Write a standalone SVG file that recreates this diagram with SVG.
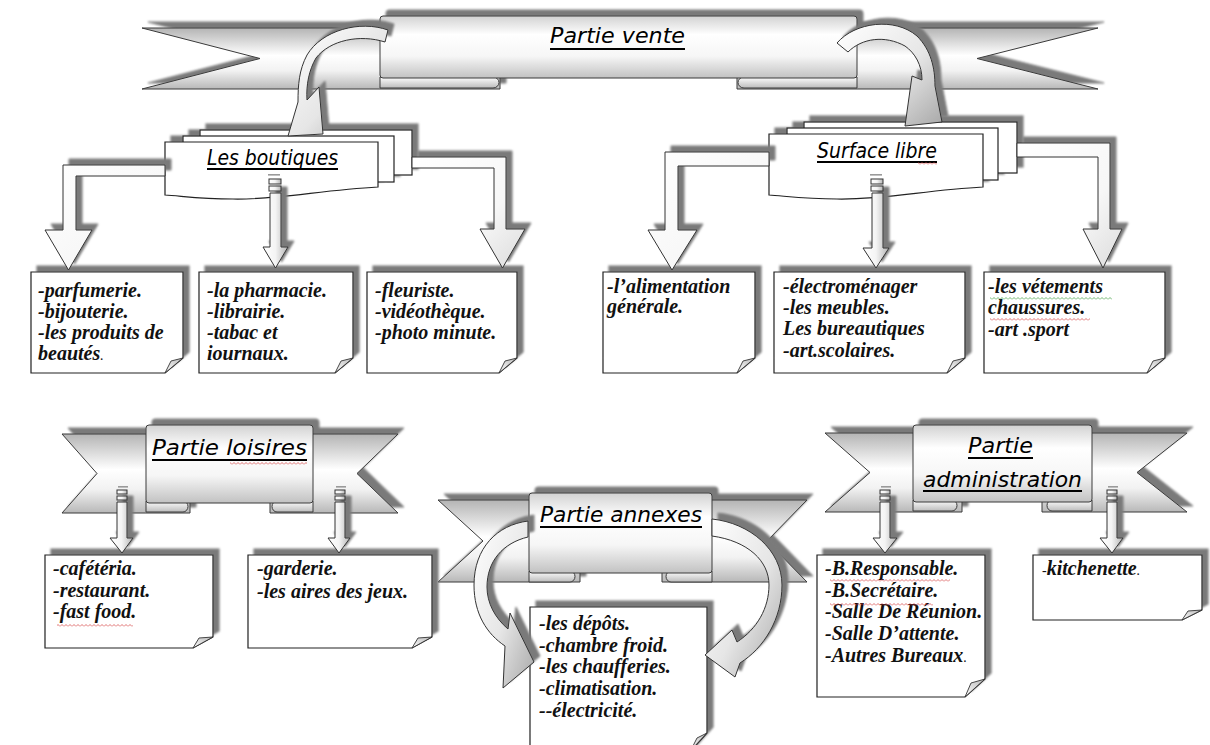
<svg xmlns="http://www.w3.org/2000/svg" width="1210" height="745" viewBox="0 0 1210 745">
<defs>
<style>
.tail{fill:url(#gRib);stroke:#3a3a3a;stroke-width:1}
.box{fill:url(#gBox);stroke:#3a3a3a;stroke-width:1}
.roll{fill:url(#gRoll);stroke:#3a3a3a;stroke-width:1}
.page{fill:#fff;stroke:#222;stroke-width:1.2}
.note{fill:#fff;stroke:#222;stroke-width:1.2}
.fold{fill:url(#gFold);stroke:#333;stroke-width:0.9}
.arr{fill:url(#gShaft);stroke:#333;stroke-width:1}
.elb{fill:url(#gElb);stroke:#333;stroke-width:1}
.curv{fill:url(#gCurve);stroke:#333;stroke-width:1}
.dash{fill:#9a9a9a}
.h{font-family:"DejaVu Sans","Noto Sans",sans-serif;font-style:italic;font-size:22px;fill:#000}
.t{font-family:"Liberation Serif","Times New Roman",serif;font-weight:bold;font-style:italic;font-size:20px;fill:#111}
.t .n{font-weight:normal;font-size:14px}
.ul{stroke:#000;stroke-width:1.8}
</style>
<linearGradient id="gRib" x1="0" y1="0" x2="0" y2="1">
<stop offset="0" stop-color="#b4b4b4"/><stop offset="0.45" stop-color="#ffffff"/><stop offset="0.7" stop-color="#f2f2f2"/><stop offset="1" stop-color="#b8b8b8"/>
</linearGradient>
<linearGradient id="gBox" x1="0" y1="0" x2="0" y2="1">
<stop offset="0" stop-color="#d2d2d2"/><stop offset="0.3" stop-color="#ffffff"/><stop offset="0.65" stop-color="#f6f6f6"/><stop offset="1" stop-color="#c2c2c2"/>
</linearGradient>
<linearGradient id="gRoll" x1="0" y1="0" x2="0" y2="1">
<stop offset="0" stop-color="#ffffff"/><stop offset="1" stop-color="#bcbcbc"/>
</linearGradient>
<linearGradient id="gShaft" x1="0" y1="0" x2="1" y2="0">
<stop offset="0" stop-color="#ffffff"/><stop offset="0.5" stop-color="#f4f4f4"/><stop offset="1" stop-color="#b4b4b4"/>
</linearGradient>
<linearGradient id="gElb" x1="0" y1="0" x2="1" y2="1">
<stop offset="0" stop-color="#ffffff"/><stop offset="0.6" stop-color="#f7f7f7"/><stop offset="1" stop-color="#dcdcdc"/>
</linearGradient>
<linearGradient id="gCurve" x1="0" y1="0" x2="1" y2="1">
<stop offset="0" stop-color="#ffffff"/><stop offset="0.55" stop-color="#e6e6e6"/><stop offset="1" stop-color="#a8a8a8"/>
</linearGradient>
<linearGradient id="gFold" x1="0" y1="1" x2="1" y2="0">
<stop offset="0" stop-color="#ffffff"/><stop offset="1" stop-color="#b8b8b8"/>
</linearGradient>
<filter id="ds" x="-15%" y="-30%" width="140%" height="160%">
<feDropShadow dx="6" dy="-6" stdDeviation="0.9" flood-color="#7a7a7a" flood-opacity="1"/>
</filter>
<pattern id="sqR" width="4" height="3" patternUnits="userSpaceOnUse">
<path d="M0,2.5 L2,0.5 L4,2.5" fill="none" stroke="#d23a3a" stroke-width="0.7"/>
</pattern>
<pattern id="sqG" width="4" height="3" patternUnits="userSpaceOnUse">
<path d="M0,2.5 L2,0.5 L4,2.5" fill="none" stroke="#3a9a3a" stroke-width="0.7"/>
</pattern>
</defs>

<rect width="1210" height="745" fill="#fff"/>

<!-- Main banner -->
<g id="partie-vente">
<g filter="url(#ds)">
<path class="tail" d="M142,28 H500 V89 H142 L260,58.5 Z"/>
<path class="tail" d="M1098,28 H737 V89 H1098 L977,58.5 Z"/>
<path class="roll" d="M380,77 H493 A6,5.5 0 0 1 493,88 H380 Z"/>
<path class="roll" d="M857,77 H744 A6,5.5 0 0 0 744,88 H857 Z"/>
<rect class="box" x="380" y="16" width="477" height="62" rx="3"/>
</g>
<text class="h" x="550" y="43" textLength="135" lengthAdjust="spacingAndGlyphs">Partie vente</text>
<line class="ul" x1="550" y1="49" x2="685" y2="49"/>
</g>

<!-- Stacked pages: shops -->
<g id="les-boutiques">
<g filter="url(#ds)">
<rect class="page" x="200" y="130" width="212" height="45"/>
<rect class="page" x="183" y="136" width="211" height="46"/>
<path class="page" d="M165,142 H378 V187 C320,190 280,200 233,199 C200,199 182,196 165,195 Z"/>
</g>
<text class="h" x="207" y="165" font-size="19.5" textLength="131" lengthAdjust="spacingAndGlyphs">Les boutiques</text>
<line class="ul" x1="207" y1="169" x2="338" y2="169" stroke-width="1.5"/>
</g>

<!-- Stacked pages: open floor -->
<g id="surface-libre">
<g filter="url(#ds)">
<rect class="page" x="804" y="122" width="213" height="51"/>
<rect class="page" x="787" y="128" width="211" height="52"/>
<path class="page" d="M769,134 H983 V187 C925,190 885,200 837,199 C805,199 785,196 769,195 Z"/>
</g>
<text class="h" x="817" y="158" font-size="19.5" textLength="120" lengthAdjust="spacingAndGlyphs">Surface libre</text>
<line class="ul" x1="817" y1="162" x2="937" y2="162" stroke-width="1.5"/>
<rect x="918" y="162" width="19" height="3" fill="url(#sqR)"/>
</g>

<!-- Row of shop notes -->
<g id="n-parfumerie">
<g filter="url(#ds)"><path class="note" d="M31,272 H183 V358 L165,373 H31 Z"/><path class="fold" d="M165,373 L171,361 L183,358 Z"/></g>
<text class="t"><tspan x="38" y="297">-parfumerie.</tspan><tspan x="38" y="318">-bijouterie.</tspan><tspan x="38" y="339">-les produits de</tspan><tspan x="38" y="360">beautés<tspan class="n">.</tspan></tspan></text>
</g>
<g id="n-pharmacie">
<g filter="url(#ds)"><path class="note" d="M199,272 H353 V358 L335,373 H199 Z"/><path class="fold" d="M335,373 L341,361 L353,358 Z"/></g>
<text class="t"><tspan x="207" y="297">-la pharmacie.</tspan><tspan x="207" y="318">-librairie.</tspan><tspan x="207" y="339">-tabac et</tspan><tspan x="207" y="360">iournaux.</tspan></text>
</g>
<g id="n-fleuriste">
<g filter="url(#ds)"><path class="note" d="M367,272 H517 V358 L499,373 H367 Z"/><path class="fold" d="M499,373 L505,361 L517,358 Z"/></g>
<text class="t"><tspan x="375" y="297">-fleuriste.</tspan><tspan x="375" y="318">-vidéothèque.</tspan><tspan x="375" y="339">-photo minute.</tspan></text>
</g>
<g id="n-alimentation">
<g filter="url(#ds)"><path class="note" d="M603,272 H755 V358 L737,373 H603 Z"/><path class="fold" d="M737,373 L743,361 L755,358 Z"/></g>
<text class="t"><tspan x="607" y="293">-l’alimentation</tspan><tspan x="607" y="313">générale.</tspan></text>
</g>
<g id="n-electromenager">
<g filter="url(#ds)"><path class="note" d="M774,272 H965 V358 L947,373 H774 Z"/><path class="fold" d="M947,373 L953,361 L965,358 Z"/></g>
<text class="t"><tspan x="783" y="293">-électroménager</tspan><tspan x="783" y="314">-les meubles.</tspan><tspan x="783" y="335">Les bureautiques</tspan><tspan x="783" y="357">-art.scolaires.</tspan></text>
</g>
<g id="n-vetements">
<g filter="url(#ds)"><path class="note" d="M984,272 H1165 V358 L1147,373 H984 Z"/><path class="fold" d="M1147,373 L1153,361 L1165,358 Z"/></g>
<text class="t"><tspan x="988" y="293">-les vétements</tspan><tspan x="988" y="314">chaussures.</tspan><tspan x="988" y="336">-art .sport</tspan></text>
<rect x="990" y="297" width="122" height="3" fill="url(#sqG)"/>
<rect x="990" y="318" width="100" height="3" fill="url(#sqR)"/>
</g>

<!-- Leisure banner -->
<g id="partie-loisires">
<g filter="url(#ds)">
<path class="tail" d="M62,434 H190 V513 H62 L97,473.5 Z"/>
<path class="tail" d="M398,434 H270 V513 H398 L357,473.5 Z"/>
<path class="roll" d="M146,501 H183 A5,5.5 0 0 1 183,512 H146 Z"/>
<path class="roll" d="M313,501 H277 A5,5.5 0 0 0 277,512 H313 Z"/>
<rect class="box" x="146" y="425" width="167" height="78" rx="3"/>
</g>
<text class="h" x="152" y="455" font-size="23" textLength="155" lengthAdjust="spacingAndGlyphs">Partie loisires</text>
<line class="ul" x1="152" y1="460" x2="307" y2="460"/>
<rect x="230" y="462" width="77" height="3" fill="url(#sqR)"/>
</g>

<!-- Annex banner -->
<g id="partie-annexes">
<g filter="url(#ds)">
<path class="tail" d="M438,500 H580 V582 H438 L483,541 Z"/>
<path class="tail" d="M807,500 H662 V582 H807 L767,541 Z"/>
<path class="roll" d="M529,571 H570 A5,5.5 0 0 1 570,582 H529 Z"/>
<path class="roll" d="M712,571 H671 A5,5.5 0 0 0 671,582 H712 Z"/>
<rect class="box" x="529" y="493" width="183" height="80" rx="3"/>
</g>
<text class="h" x="540" y="522" textLength="162" lengthAdjust="spacingAndGlyphs">Partie annexes</text>
<line class="ul" x1="540" y1="527" x2="702" y2="527"/>
</g>

<!-- Administration banner -->
<g id="partie-administration">
<g filter="url(#ds)">
<path class="tail" d="M825,433 H962 V512 H825 L870,472.5 Z"/>
<path class="tail" d="M1187,433 H1042 V512 H1187 L1137,472.5 Z"/>
<path class="roll" d="M913,500 H952 A5,5.5 0 0 1 952,511 H913 Z"/>
<path class="roll" d="M1092,500 H1052 A5,5.5 0 0 0 1052,511 H1092 Z"/>
<rect class="box" x="913" y="425" width="179" height="77" rx="3"/>
</g>
<text class="h" x="968" y="453" textLength="65" lengthAdjust="spacingAndGlyphs">Partie</text>
<line class="ul" x1="968" y1="458" x2="1033" y2="458"/>
<text class="h" x="923" y="487" textLength="159" lengthAdjust="spacingAndGlyphs">administration</text>
<line class="ul" x1="923" y1="491" x2="1082" y2="491"/>
</g>

<!-- Lower notes -->
<g id="n-cafeteria">
<g filter="url(#ds)"><path class="note" d="M45,555 H213 V637 L193,648 H45 Z"/><path class="fold" d="M193,648 L199,638 L213,637 Z"/></g>
<text class="t"><tspan x="53" y="575">-cafétéria.</tspan><tspan x="53" y="597">-restaurant.</tspan><tspan x="53" y="618">-fast food.</tspan></text>
<rect x="57" y="624" width="76" height="3" fill="url(#sqR)"/>
</g>
<g id="n-garderie">
<g filter="url(#ds)"><path class="note" d="M248,555 H432 V637 L412,648 H248 Z"/><path class="fold" d="M412,648 L418,638 L432,637 Z"/></g>
<text class="t"><tspan x="257" y="575">-garderie.</tspan><tspan x="257" y="598">-les aires des jeux.</tspan></text>
</g>
<g id="n-depots">
<g filter="url(#ds)"><path class="note" d="M530,607 H707 V733 L690,752 H530 Z"/><path class="fold" d="M691,750 L697,738 L707,733 Z"/></g>
<text class="t"><tspan x="539" y="630">-les dépôts.</tspan><tspan x="539" y="652">-chambre froid.</tspan><tspan x="539" y="673">-les chaufferies.</tspan><tspan x="539" y="695">-climatisation.</tspan><tspan x="539" y="717">--électricité.</tspan></text>
</g>
<g id="n-bureaux">
<g filter="url(#ds)"><path class="note" d="M817,555 H985 V679 L965,697 H817 Z"/><path class="fold" d="M965,697 L971,683 L985,679 Z"/></g>
<text class="t"><tspan x="825" y="575">-B.Responsable.</tspan><tspan x="825" y="597">-B.Secrétaire.</tspan><tspan x="825" y="618">-Salle De Réunion.</tspan><tspan x="825" y="640">-Salle D’attente.</tspan><tspan x="825" y="662">-Autres Bureaux<tspan class="n">.</tspan></tspan></text>
<rect x="830" y="579" width="120" height="3" fill="url(#sqR)"/>
<rect x="830" y="603" width="103" height="3" fill="url(#sqR)"/>
</g>
<g id="n-kitchenette">
<g filter="url(#ds)"><path class="note" d="M1033,555 H1202 V610 L1182,620 H1033 Z"/><path class="fold" d="M1182,620 L1188,611 L1202,610 Z"/></g>
<text class="t"><tspan x="1042" y="575" font-size="14" font-weight="normal">-</tspan><tspan y="575">kitchenette</tspan><tspan class="n" y="575">.</tspan></text>
</g>

<!-- Connectors -->
<g id="connectors">
<g filter="url(#ds)">
<!-- curved arrows from the main banner -->
<path class="curv" d="M388,30 C360,20 322,30 307,55 C299,70 298,85 298,102 L288,136 L323,134 L319,87 L307,100 C306,85 309,70 316,58 C330,40 360,34 385,42 Z"/>
<path class="curv" d="M837,43 C855,22 895,17 917,36 C931,50 935,68 935,86 L942,122 L905,126 L912,76 L922,80 C922,65 915,53 905,46 C885,35 862,38 848,52 Z"/>
<!-- elbow arrows, shops -->
<path class="elb" d="M165,165 H63 V230 H45 L68.5,270 L92,230 H76 V176 H165 Z"/>
<path class="elb" d="M412,157 H506 V229 H525 L502.5,268 L480,229 H494 V168 H412 Z"/>
<!-- elbow arrows, open floor -->
<path class="elb" d="M769,152 H665 V230 H648 L672,270 L697,230 H678 V166 H769 Z"/>
<path class="elb" d="M1017,143 H1110 V229 H1122 L1103,268 L1083,229 H1098 V157 H1017 Z"/>
<!-- straight arrows under the pages -->
<path class="arr" d="M270,193 H281 V247 H288 L275.5,268 L263,247 H270 Z"/>
<path class="arr" d="M872,193 H883 V248 H889 L876,268 L863,248 H872 Z"/>
<!-- arrows under the lower banners -->
<path class="arr" d="M117,502 H127 V538 H133 L122,553 L110,538 H117 Z"/>
<path class="arr" d="M335,502 H345 V538 H350 L339,553 L328,538 H335 Z"/>
<path class="arr" d="M880,502 H890 V538 H897 L885,553 L873,538 H880 Z"/>
<path class="arr" d="M1107,502 H1117 V538 H1123 L1112,553 L1100,538 H1107 Z"/>
<!-- curved arrows around the annex note -->
<path class="curv" d="M528,521 C497,525 474,548 474,585 C474,614 487,634 505,646 L503,688 L534,662 L510,613 L508,629 C495,618 487,603 487,587 C487,561 503,543 528,537 Z"/>
<path class="curv" d="M712,519 C750,523 782,550 782,585 C782,619 764,648 740,663 L735,677 L705,655 L732,630 L737,642 C757,629 769,608 769,585 C769,561 748,541 712,536 Z"/>
</g>
<!-- striped tails of the straight arrows -->
<g>
<rect class="dash" x="268" y="174" width="12" height="1.6"/>
<rect class="arr" x="269" y="179" width="12" height="5"/><rect class="arr" x="269" y="186" width="12" height="5"/>
<rect class="dash" x="870" y="174" width="12" height="1.6"/>
<rect class="arr" x="871" y="179" width="12" height="5"/><rect class="arr" x="871" y="186" width="12" height="5"/>
<rect class="dash" x="118" y="486" width="10" height="1.6"/>
<rect class="arr" x="117" y="490" width="10" height="4"/><rect class="arr" x="117" y="496" width="10" height="4"/>
<rect class="dash" x="336" y="486" width="10" height="1.6"/>
<rect class="arr" x="335" y="490" width="10" height="4"/><rect class="arr" x="335" y="496" width="10" height="4"/>
<rect class="dash" x="881" y="486" width="10" height="1.6"/>
<rect class="arr" x="880" y="490" width="10" height="4"/><rect class="arr" x="880" y="496" width="10" height="4"/>
<rect class="dash" x="1108" y="486" width="10" height="1.6"/>
<rect class="arr" x="1107" y="490" width="10" height="4"/><rect class="arr" x="1107" y="496" width="10" height="4"/>
</g>
</g>
</svg>
